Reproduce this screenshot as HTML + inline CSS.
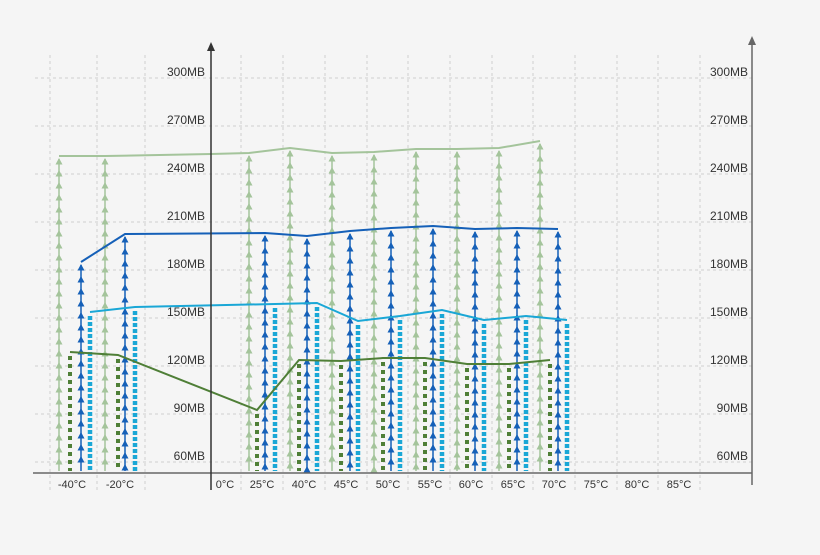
<!DOCTYPE html>
<html><head><meta charset="utf-8"><style>
body{margin:0;background:#f5f5f5;}
svg{display:block;font-family:"Liberation Sans",sans-serif;}
</style></head><body>
<svg id="s" width="820" height="555" viewBox="0 0 820 555" xmlns="http://www.w3.org/2000/svg">
<rect width="820" height="555" fill="#f5f5f5"/>
<g id="grid" stroke="#cfcfcf" stroke-dasharray="3,3" stroke-width="1"></g>
<g id="cols"></g>
<g id="lines" fill="none" stroke-width="2"></g>
<g id="axes"></g>
<g id="txt" font-size="12" fill="#333"></g>
</svg>
<script>
const NS="http://www.w3.org/2000/svg";
function el(p,t,a,txt){const e=document.createElementNS(NS,t);for(const k in a)e.setAttribute(k,a[k]);if(txt)e.textContent=txt;document.getElementById(p).appendChild(e);return e;}
const gy=[78,126,174,222,270,318,366,414,462];
gy.forEach(y=>el('grid','line',{x1:35,x2:752,y1:y,y2:y}));
[50,97,145,241,283,325,367,408,450,492,533,575,617,658,700].forEach(x=>el('grid','line',{x1:x,x2:x,y1:55,y2:490}));
const labs=["300MB","270MB","240MB","210MB","180MB","150MB","120MB","90MB","60MB"];
labs.forEach((l,i)=>{el('txt','text',{x:205,y:gy[i]-2,'text-anchor':'end'},l);el('txt','text',{x:748,y:gy[i]-2,'text-anchor':'end'},l);});
const cats=[["-40°C",72],["-20°C",120],["0°C",225],["25°C",262],["40°C",304],["45°C",346],["50°C",388],["55°C",430],["60°C",471],["65°C",513],["70°C",554],["75°C",596],["80°C",637],["85°C",679]];
cats.forEach(c=>el('txt','text',{x:c[1],y:488,'text-anchor':'middle','font-size':'11'},c[0]));
const base=471;
const LG=[[59,156],[105,156],[249,153],[290,148],[332,153],[374,152],[416,149],[457,149],[499,148],[540,141]];
const BL=[[81,262],[125,234],[265,233],[307,236],[350,231],[391,228],[433,226],[475,229],[517,228],[558,229]];
const CY=[[90,312],[135,307],[275,304],[317,303],[358,321],[400,316],[442,310],[484,320],[526,316],[567,320]];
const DG=[[70,352],[118,355],[257,410],[299,360],[341,361],[383,358],[425,358],[467,364],[509,364],[550,360]];
function arrows(pts,col){pts.forEach(([x,y])=>{el('cols','line',{x1:x,x2:x,y1:y+3,y2:base,stroke:col,'stroke-width':1.5});for(let yy=y+2;yy<base-4;yy+=12){el('cols','path',{d:`M${x} ${yy}l-3.5 6.5h7z`,fill:col});}});}
function dashes(pts,col,da,w){pts.forEach(([x,y])=>{el('cols','line',{x1:x,x2:x,y1:y+4,y2:base,stroke:col,'stroke-width':w,'stroke-dasharray':da});});}
arrows(LG,"#a4c49b");dashes(DG,"#4f7f37","4,4",4);arrows(BL,"#1560b8");dashes(CY,"#1aa7d6","4,2",4.5);
function line(pts,col){let d="M"+pts.map(p=>p.join(" ")).join(" L");el('lines','path',{d:d,stroke:col});}
line([[59,156],[105,156],[211,154],[249,153],[290,148],[332,153],[374,152],[416,149],[457,149],[499,148],[540,141]],"#a4c49b");
line(BL,"#1560b8");
line(CY,"#1aa7d6");
line(DG,"#4f7f37");
el('axes','line',{x1:33,x2:752,y1:473,y2:473,stroke:'#666','stroke-width':1.5});
el('axes','line',{x1:211,x2:211,y1:48,y2:490,stroke:'#333','stroke-width':1.5});
el('axes','path',{d:'M211 42l-4 9h8z',fill:'#333'});
el('axes','line',{x1:752,x2:752,y1:42,y2:485,stroke:'#666','stroke-width':1.5});
el('axes','path',{d:'M752 36l-4 9h8z',fill:'#666'});
</script>
</body></html>
